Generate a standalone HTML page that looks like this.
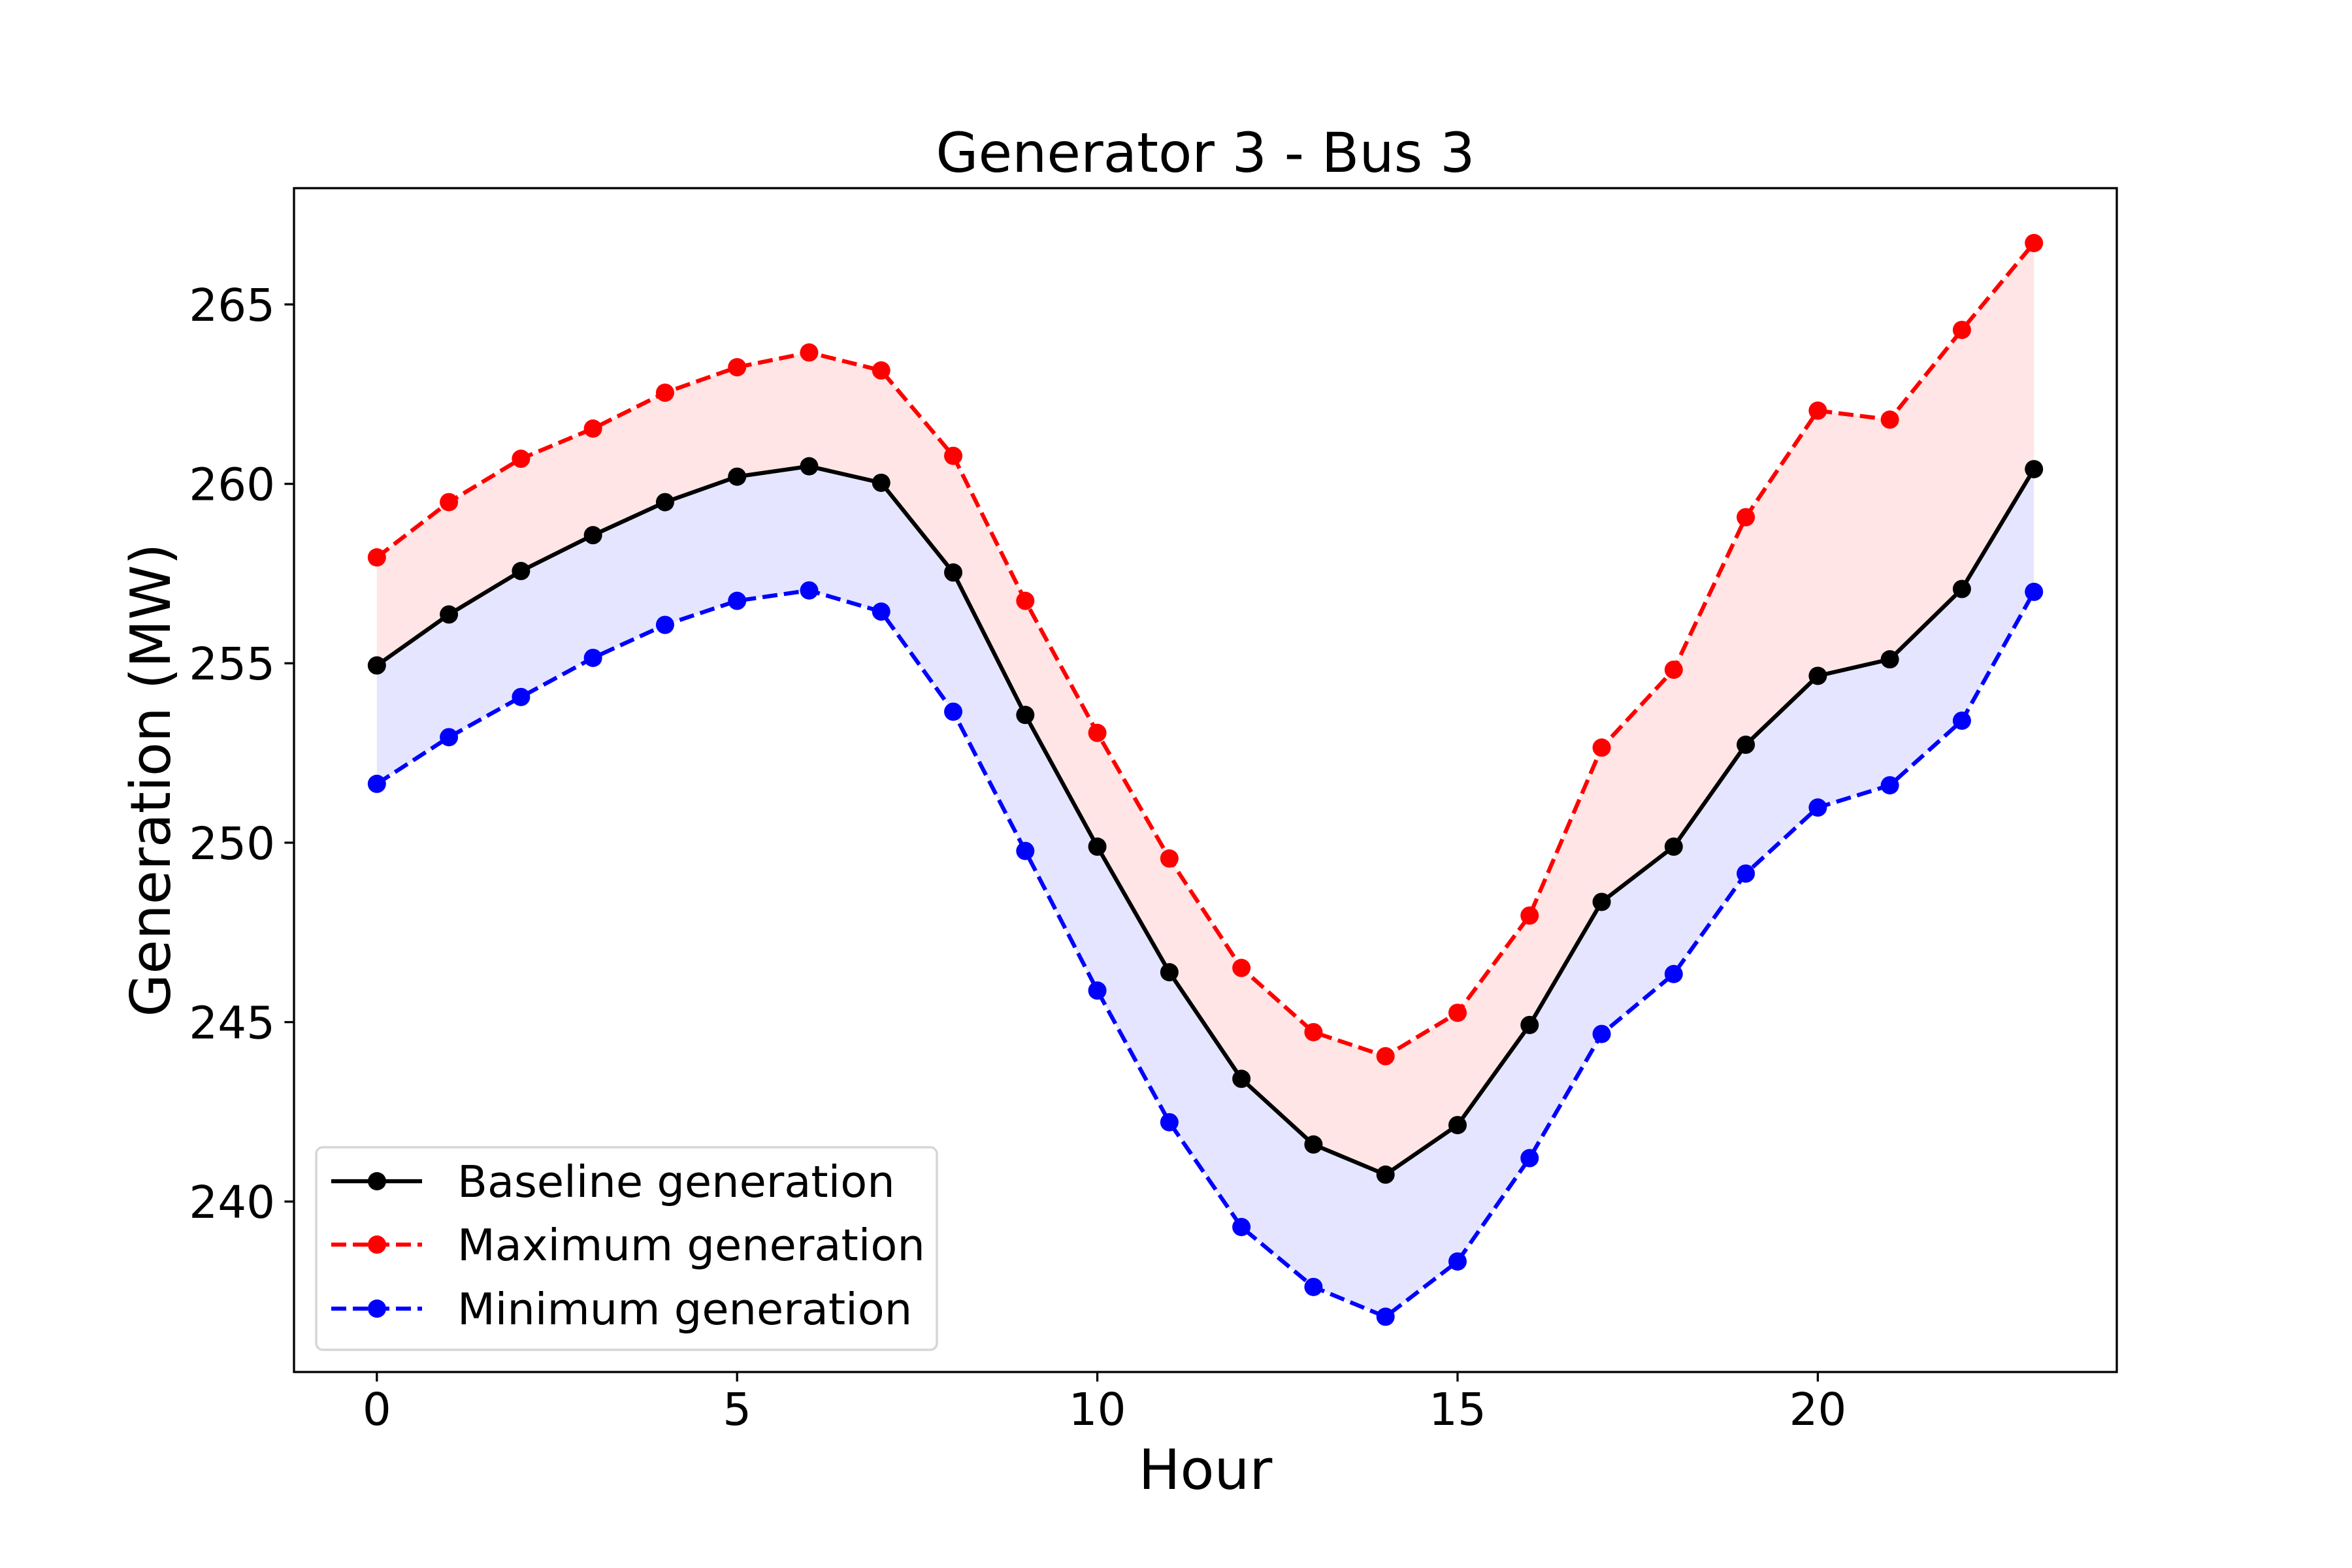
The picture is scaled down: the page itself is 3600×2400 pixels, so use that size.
<!DOCTYPE html>
<html><head><meta charset="utf-8"><style>
html,body{margin:0;padding:0;background:#fff;}
svg{display:block;font-family:"DejaVu Sans","Liberation Sans",sans-serif;}
</style></head><body>
<svg id="chart" width="3600" height="2400" viewBox="0 0 3600 2400" xmlns="http://www.w3.org/2000/svg">
<rect width="3600" height="2400" fill="#fff"/>
<g id="fills"></g>
<g id="series"></g>
<rect x="450" y="288" width="2790" height="1812" fill="none" stroke="#000" stroke-width="3.3"/>
<g id="xticks"></g>
<g id="yticks"></g>
<text x="1845" y="263" font-size="84" text-anchor="middle">Generator 3 - Bus 3</text>
<text x="1845" y="2279" font-size="85" text-anchor="middle">Hour</text>
<text transform="translate(260,1194) rotate(-90)" font-size="85" text-anchor="middle">Generation (MW)</text>
<g id="legend">
<rect x="484" y="1756" width="950" height="310" rx="10" fill="#fff" fill-opacity="0.8" stroke="#d6d6d6" stroke-width="3.5"/>
<g>
<line x1="507" y1="1808" x2="646" y2="1808" stroke="#000" stroke-width="6.25"/>
<circle cx="577" cy="1808" r="14" fill="#000"/>
<text x="700" y="1832" font-size="67">Baseline generation</text></g>
<g>
<line x1="507" y1="1905" x2="646" y2="1905" stroke="#f00" stroke-width="6.25" stroke-dasharray="23,10"/>
<circle cx="577" cy="1905" r="14" fill="#f00"/>
<text x="700" y="1929" font-size="67">Maximum generation</text></g>
<g>
<line x1="507" y1="2003" x2="646" y2="2003" stroke="#00f" stroke-width="6.25" stroke-dasharray="23,10"/>
<circle cx="577" cy="2003" r="14" fill="#00f"/>
<text x="700" y="2027" font-size="67">Minimum generation</text></g>
</g>
</svg>
<script>
const hours = [0,1,2,3,4,5,6,7,8,9,10,11,12,13,14,15,16,17,18,19,20,21,22,23];
const baseline = [254.94,256.36,257.57,258.57,259.49,260.2,260.49,260.03,257.53,253.56,249.89,246.39,243.42,241.59,240.75,242.13,244.92,248.35,249.89,252.73,254.65,255.11,257.07,260.41];
const maximum = [257.95,259.49,260.7,261.54,262.54,263.25,263.66,263.16,260.78,256.74,253.06,249.56,246.51,244.72,244.05,245.26,247.97,252.65,254.82,259.07,262.04,261.79,264.29,266.71];
const minimum = [251.64,252.94,254.06,255.15,256.07,256.74,257.03,256.44,253.65,249.77,245.88,242.21,239.29,237.62,236.79,238.33,241.21,244.67,246.34,249.14,250.98,251.6,253.4,256.99];
const xTicks = [0,5,10,15,20];
const yTicks = [240,245,250,255,260,265];

const NS = "http://www.w3.org/2000/svg";
const X0 = 450, X1 = 3240, Y0 = 288, Y1 = 2100;
const xMin = -1.15, xMax = 24.15, yMin = 235.25, yMax = 268.24;
function xs(v){ return X0 + (v - xMin) / (xMax - xMin) * (X1 - X0); }
function ys(v){ return Y1 - (v - yMin) / (yMax - yMin) * (Y1 - Y0); }
function mk(tag, attrs, parent){ const e = document.createElementNS(NS, tag); for (const k in attrs) e.setAttribute(k, attrs[k]); parent.appendChild(e); return e; }

const fills = document.getElementById('fills');
function band(upper, lower, color, name){
  let d = '';
  hours.forEach((h,i)=>{ d += (i?'L':'M') + xs(h) + ',' + ys(upper[i]); });
  for (let i = hours.length-1; i >= 0; i--) d += 'L' + xs(hours[i]) + ',' + ys(lower[i]);
  const p = mk('path', {d: d + 'Z', fill: color, stroke: 'none'}, fills);
  
  
}
band(maximum, baseline, 'rgb(255,229,229)', 'max-fill-band');
band(baseline, minimum, 'rgb(229,229,255)', 'min-fill-band');

const series = document.getElementById('series');
function line(vals, color, dash, name){
  const g = mk('g', {}, series);
  
  
  const pts = hours.map((h,i)=> xs(h) + ',' + ys(vals[i])).join(' ');
  const attrs = {points: pts, fill: 'none', stroke: color, 'stroke-width': 6.25, 'stroke-linejoin': 'round'};
  if (dash) attrs['stroke-dasharray'] = '23,10';
  const pl = mk('polyline', attrs, g);
  
  
  hours.forEach((h,i)=>{
    const c = mk('circle', {cx: xs(h), cy: ys(vals[i]), r: 14, fill: color}, g);
    
    
  });
}
line(maximum, '#f00', true, 'maximum-series');
line(minimum, '#00f', true, 'minimum-series');
line(baseline, '#000', false, 'baseline-series');

const xt = document.getElementById('xticks');
xTicks.forEach(t=>{
  const l = mk('line', {x1: xs(t), x2: xs(t), y1: Y1, y2: Y1 + 14.6, stroke: '#000', 'stroke-width': 3.3}, xt);
  
  
  const tx = mk('text', {x: xs(t), y: 2181, 'font-size': 69, 'text-anchor': 'middle'}, xt);
  tx.textContent = t;
  
  
});
const yt = document.getElementById('yticks');
yTicks.forEach(t=>{
  const l = mk('line', {x1: X0 - 14.6, x2: X0, y1: ys(t), y2: ys(t), stroke: '#000', 'stroke-width': 3.3}, yt);
  
  
  const tx = mk('text', {x: 421, y: ys(t) + 25, 'font-size': 69, 'text-anchor': 'end'}, yt);
  tx.textContent = t;
  
  
});
</script>
</body></html>
